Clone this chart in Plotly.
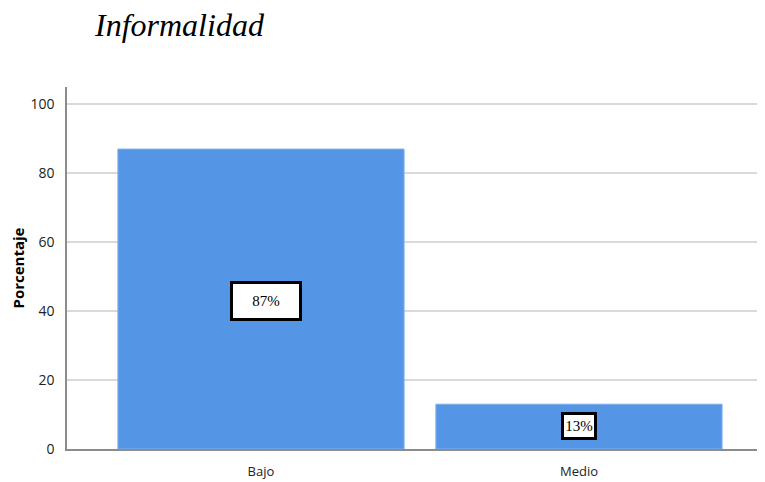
import plotly.graph_objects as go

categories = ["Bajo", "Medio"]
values = [87, 13]
labels = ["87%", "13%"]
y_ticks = [0, 20, 40, 60, 80, 100]

# the page body adds an 8 px offset; the figure is sized to compensate
OFF = 8
W, H = 765 - OFF, 482 - OFF

fig = go.Figure()
fig.add_trace(go.Bar(
    x=[0, 1], y=values, width=0.9,
    marker=dict(color="#5595E5", line=dict(color="#7FB0EE", width=1)),
    hoverinfo="skip",
))

box_sizes = [(66, 34), (30, 22)]
label_y = [43, 6.8]
for i, (lab, (w, h)) in enumerate(zip(labels, box_sizes)):
    fig.add_annotation(
        x=i + (0.017 if i == 0 else 0), y=label_y[i], xref="x", yref="y",
        text=lab, showarrow=False,
        font=dict(family="Liberation Serif", size=15, color="black"),
        bgcolor="white", bordercolor="black", borderwidth=3, borderpad=0,
        width=w, height=h,
    )

# chart title as a paper annotation placed in the top margin
fig.add_annotation(
    text="<i>Informalidad</i>", showarrow=False,
    xref="paper", yref="paper",
    x=-(67 - 92) / (W - (67 - OFF)), xanchor="left",
    y=1 + (87 - 25) / (H - (87 - OFF) - 33), yanchor="middle",
    font=dict(family="Liberation Serif", size=32, color="black"),
)

fig.update_layout(
    width=W, height=H,
    margin=dict(l=67 - OFF, r=0, t=87 - OFF, b=33),
    paper_bgcolor="white", plot_bgcolor="white",
    showlegend=False,
    xaxis=dict(
        range=[-0.61, 1.585],
        tickmode="array", tickvals=[0, 1], ticktext=categories,
        showgrid=False, zeroline=False,
        showline=True, linecolor="#8c8c8c", linewidth=1.5,
        tickfont=dict(family="Open Sans", size=13, color="#222"),
        ticks="", ticklabelstandoff=10,
    ),
    yaxis=dict(
        range=[0, 105],
        tickmode="array", tickvals=y_ticks,
        showgrid=True, gridcolor="#d9d9d9", gridwidth=1.5,
        zeroline=False,
        showline=True, linecolor="#8c8c8c", linewidth=1.5,
        tickfont=dict(family="Open Sans", size=14, color="#222"),
        ticks="", ticklabelstandoff=8,
        title=dict(text="<b>Porcentaje</b>",
                   font=dict(family="Open Sans", size=15, color="black"),
                   standoff=12),
    ),
)

fig.write_html("out.html")
